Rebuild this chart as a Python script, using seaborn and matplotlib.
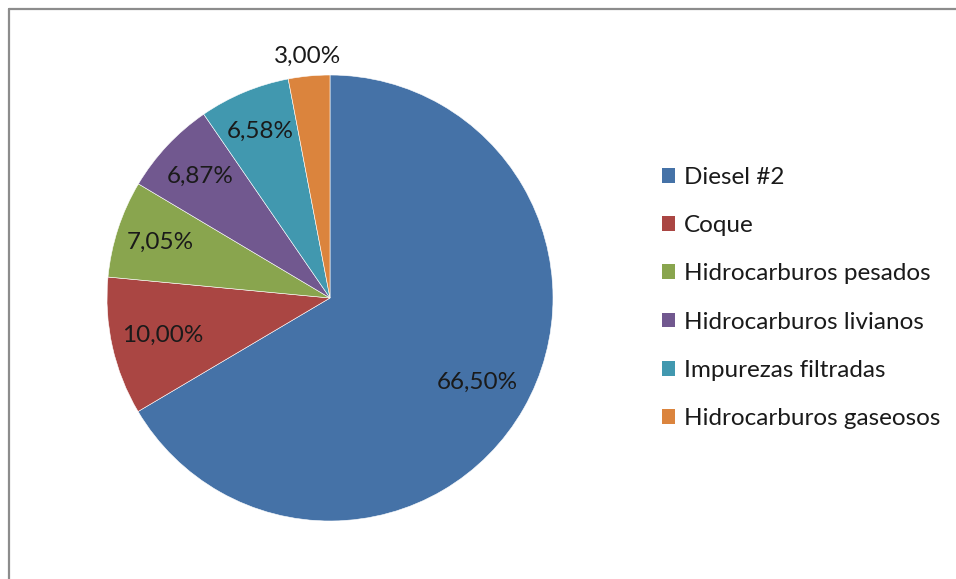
import numpy as np
import matplotlib
matplotlib.use("Agg")
import matplotlib.pyplot as plt
import seaborn as sns
from matplotlib.patches import Patch
from matplotlib.lines import Line2D

# Product yield of the process (% of feed)
categories = [
    "Diesel #2",
    "Coque",
    "Hidrocarburos pesados",
    "Hidrocarburos livianos",
    "Impurezas filtradas",
    "Hidrocarburos gaseosos",
]
shares = [66.50, 10.00, 7.05, 6.87, 6.58, 3.00]
value_labels = ["66,50%", "10,00%", "7,05%", "6,87%", "6,58%", "3,00%"]

sns.set_theme(style="white")
plt.rcParams["font.family"] = ["Lato", "DejaVu Sans"]

colors = sns.color_palette(["#4572A7", "#AA4643", "#89A54E", "#71588F", "#4198AF", "#DB843D"])

W, H = 956, 579
fig = plt.figure(figsize=(W / 100, H / 100), dpi=100)
fig.patch.set_facecolor("white")

# chart-area frame (open on the right and bottom)
frame_kw = dict(color="#8c8c8c", lw=1.6, transform=fig.transFigure, clip_on=False)
fig.add_artist(Line2D([9 / W, 1.0], [1 - 9 / H, 1 - 9 / H], **frame_kw))
fig.add_artist(Line2D([9 / W, 9 / W], [1 - 9 / H, 0.0], **frame_kw))

# pie area
cx, cy, r = 330, 298, 223
ax = fig.add_axes([(cx - r) / W, 1 - (cy + r) / H, 2 * r / W, 2 * r / H])
wedges, _ = ax.pie(
    shares,
    colors=colors,
    startangle=90,
    counterclock=False,
    radius=1.0,
    wedgeprops=dict(edgecolor="white", linewidth=0.4),
)
ax.set_xlim(-1, 1)
ax.set_ylim(-1, 1)
ax.set_aspect("equal")
ax.axis("off")

# value labels placed along each wedge's bisector
label_radius = [0.76, 0.77, 0.80, 0.80, 0.81, 1.09]
for w, txt, rad in zip(wedges, value_labels, label_radius):
    mid = np.deg2rad((w.theta1 + w.theta2) / 2)
    ax.text(rad * np.cos(mid), rad * np.sin(mid), txt,
            ha="center", va="center", fontsize=17.5, color="#1a1a1a", clip_on=False)

handles = [Patch(facecolor=c, edgecolor="none") for c in colors]
fig.legend(
    handles, categories,
    loc="center left",
    bbox_to_anchor=(662 / W, 1 - 298 / H),
    frameon=False,
    fontsize=17.5,
    handlelength=0.55,
    handleheight=0.55,
    handletextpad=0.35,
    labelspacing=1.12,
    borderaxespad=0,
    borderpad=0,
    labelcolor="#1a1a1a",
)

fig.savefig("out.png", dpi=100)
